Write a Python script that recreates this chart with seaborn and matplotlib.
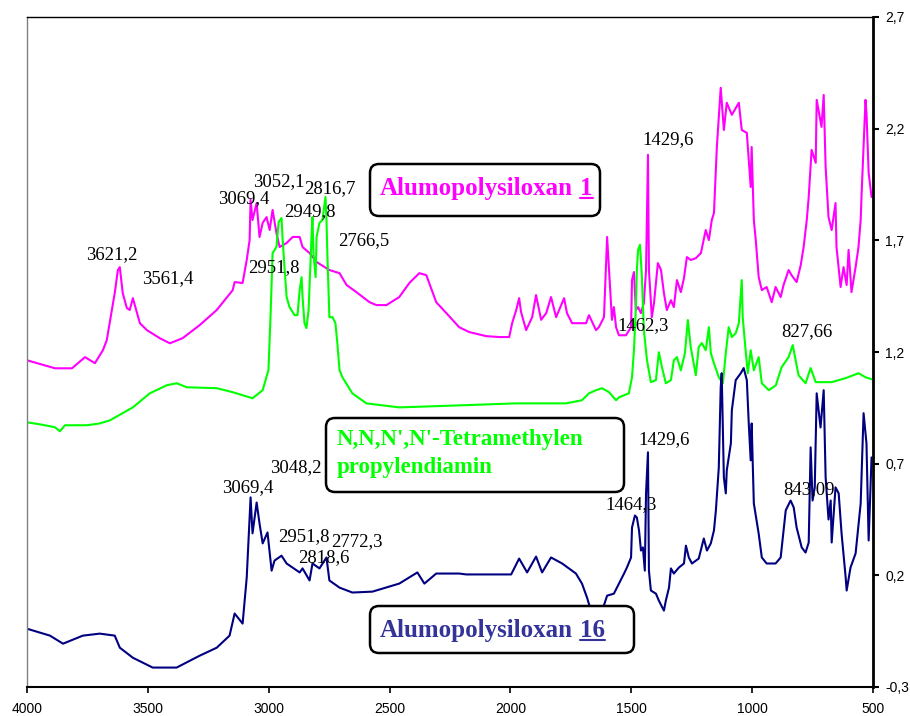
import matplotlib

matplotlib.use("Agg")
import matplotlib.pyplot as plt
import seaborn as sns
from matplotlib.lines import Line2D
from matplotlib.patches import FancyBboxPatch
from matplotlib.transforms import IdentityTransform

# --- Spektrendaten (Wellenzahl cm-1 / Absorbanz) ---
wn_alu1 = [4000, 3884, 3814, 3760, 3719, 3686, 3670, 3637, 3624, 3616, 3604, 3587, 3575,
           3562, 3533, 3504, 3451, 3409, 3356, 3286, 3215, 3149, 3141, 3108, 3091, 3079,
           3075, 3067, 3050, 3038, 3025, 3009, 2996, 2984, 2968, 2955, 2926, 2901, 2872,
           2860, 2831, 2802, 2749, 2707, 2678, 2637, 2583, 2554, 2513, 2460, 2418, 2377,
           2348, 2307, 2265, 2212, 2170, 2100, 2047, 2005, 1993, 1976, 1964, 1956, 1935,
           1910, 1894, 1873, 1852, 1832, 1811, 1778, 1766, 1745, 1687, 1675, 1646, 1634,
           1613, 1600, 1592, 1580, 1572, 1563, 1551, 1522, 1501, 1497, 1489, 1481, 1472,
           1460, 1448, 1439, 1431, 1427, 1415, 1406, 1390, 1377, 1365, 1353, 1336, 1324,
           1311, 1295, 1282, 1270, 1254, 1233, 1212, 1192, 1179, 1167, 1158, 1146, 1130,
           1117, 1105, 1084, 1055, 1043, 1022, 1006, 1002, 993, 985, 973, 960, 940, 919,
           903, 882, 870, 849, 837, 816, 799, 787, 774, 766, 754, 737, 733, 713, 704, 696,
           684, 671, 655, 651, 634, 622, 609, 601, 589, 572, 560, 551, 547, 531, 527, 518,
           506]
ab_alu1 = [1.163, 1.127, 1.127, 1.177, 1.150, 1.208, 1.253, 1.464, 1.567, 1.580, 1.464,
           1.397, 1.388, 1.441, 1.329, 1.298, 1.262, 1.239, 1.262, 1.320, 1.388, 1.477,
           1.513, 1.509, 1.612, 1.701, 1.881, 1.791, 1.867, 1.715, 1.778, 1.804, 1.746,
           1.836, 1.733, 1.670, 1.688, 1.715, 1.715, 1.670, 1.643, 1.603, 1.567, 1.553,
           1.500, 1.468, 1.423, 1.410, 1.410, 1.446, 1.509, 1.553, 1.544, 1.423, 1.374,
           1.311, 1.289, 1.271, 1.267, 1.267, 1.329, 1.388, 1.441, 1.379, 1.298, 1.356,
           1.455, 1.344, 1.374, 1.446, 1.356, 1.441, 1.374, 1.329, 1.329, 1.365, 1.298,
           1.311, 1.356, 1.715, 1.567, 1.344, 1.401, 1.311, 1.275, 1.275, 1.311, 1.522,
           1.558, 1.388, 1.401, 1.374, 1.419, 1.567, 2.083, 1.567, 1.356, 1.419, 1.598,
           1.567, 1.464, 1.388, 1.432, 1.401, 1.522, 1.468, 1.531, 1.625, 1.612, 1.620,
           1.643, 1.746, 1.701, 1.791, 1.822, 2.118, 2.383, 2.194, 2.316, 2.262, 2.316,
           2.194, 2.181, 1.939, 2.118, 1.791, 1.701, 1.536, 1.477, 1.491, 1.423, 1.491,
           1.446, 1.500, 1.567, 1.544, 1.513, 1.589, 1.670, 1.791, 1.894, 2.105, 2.047,
           2.329, 2.208, 2.351, 2.029, 1.804, 1.746, 1.867, 1.670, 1.491, 1.580, 1.500,
           1.657, 1.468, 1.580, 1.670, 1.791, 1.912, 2.329, 2.271, 2.002, 1.894]

wn_amin = [4000, 3946, 3884, 3864, 3843, 3752, 3700, 3657, 3562, 3492, 3422, 3381, 3339,
           3215, 3149, 3067, 3025, 3001, 2992, 2984, 2968, 2959, 2947, 2943, 2934, 2926,
           2914, 2893, 2881, 2872, 2864, 2860, 2852, 2844, 2835, 2823, 2819, 2815, 2806,
           2802, 2790, 2778, 2765, 2761, 2757, 2749, 2736, 2724, 2716, 2707, 2695, 2654,
           2596, 2460, 2212, 1976, 1770, 1704, 1675, 1646, 1621, 1592, 1563, 1551, 1510,
           1497, 1489, 1481, 1477, 1472, 1464, 1456, 1448, 1435, 1419, 1398, 1386, 1373,
           1357, 1336, 1324, 1311, 1295, 1278, 1266, 1254, 1233, 1221, 1208, 1192, 1179,
           1171, 1158, 1138, 1121, 1109, 1097, 1084, 1068, 1055, 1043, 1039, 1026, 1018,
           1006, 993, 973, 960, 931, 902, 878, 849, 832, 820, 808, 779, 758, 737, 671,
           613, 560, 531, 506]
ab_amin = [0.885, 0.876, 0.863, 0.845, 0.872, 0.872, 0.880, 0.894, 0.952, 1.015, 1.051,
           1.060, 1.042, 1.038, 1.020, 0.993, 1.029, 1.119, 1.374, 1.643, 1.670, 1.782,
           1.800, 1.715, 1.567, 1.446, 1.401, 1.365, 1.365, 1.477, 1.535, 1.446, 1.329,
           1.307, 1.388, 1.715, 1.804, 1.643, 1.535, 1.715, 1.778, 1.791, 1.894, 1.791,
           1.625, 1.356, 1.356, 1.329, 1.239, 1.119, 1.087, 1.015, 0.970, 0.952, 0.961,
           0.970, 0.970, 0.984, 1.015, 1.029, 1.038, 1.020, 0.984, 0.997, 1.015, 1.087,
           1.208, 1.401, 1.567, 1.657, 1.680, 1.535, 1.298, 1.163, 1.065, 1.074, 1.199,
           1.132, 1.060, 1.074, 1.163, 1.177, 1.118, 1.195, 1.343, 1.222, 1.096, 1.222,
           1.240, 1.208, 1.311, 1.195, 1.150, 1.087, 1.060, 1.195, 1.311, 1.267, 1.284,
           1.329, 1.522, 1.356, 1.195, 1.105, 1.208, 1.118, 1.177, 1.060, 1.029, 1.051,
           1.132, 1.177, 1.231, 1.163, 1.096, 1.060, 1.128, 1.065, 1.065, 1.083, 1.105,
           1.087, 1.078]

wn_alu16 = [4000, 3905, 3851, 3769, 3699, 3637, 3616, 3562, 3480, 3381, 3286, 3215, 3162,
            3141, 3108, 3091, 3075, 3067, 3050, 3038, 3025, 3005, 2988, 2976, 2947, 2926,
            2872, 2860, 2831, 2819, 2790, 2761, 2749, 2707, 2654, 2571, 2460, 2385, 2356,
            2307, 2212, 2183, 1997, 1964, 1931, 1894, 1869, 1832, 1786, 1729, 1704, 1683,
            1667, 1634, 1600, 1572, 1551, 1530, 1518, 1501, 1497, 1485, 1477, 1468, 1460,
            1452, 1444, 1439, 1431, 1427, 1419, 1398, 1386, 1365, 1357, 1344, 1336, 1324,
            1303, 1282, 1274, 1262, 1249, 1221, 1200, 1187, 1171, 1158, 1150, 1138, 1130,
            1126, 1117, 1109, 1105, 1088, 1084, 1068, 1047, 1035, 1022, 1014, 1006, 1002,
            993, 973, 960, 940, 903, 882, 861, 841, 828, 816, 795, 779, 766, 758, 750, 741,
            733, 717, 704, 696, 684, 675, 671, 655, 642, 630, 613, 609, 593, 572, 551, 539,
            527, 518, 506]
ab_alu16 = [-0.039, -0.070, -0.106, -0.070, -0.061, -0.070, -0.124, -0.169, -0.213, -0.213,
            -0.160, -0.124, -0.070, 0.029, -0.016, 0.190, 0.549, 0.388, 0.526, 0.432, 0.343,
            0.392, 0.221, 0.266, 0.288, 0.253, 0.213, 0.231, 0.177, 0.253, 0.231, 0.280,
            0.177, 0.145, 0.123, 0.127, 0.163, 0.213, 0.163, 0.208, 0.208, 0.204, 0.204,
            0.275, 0.213, 0.284, 0.213, 0.280, 0.253, 0.208, 0.163, 0.100, 0.042, -0.003,
            0.109, 0.118, 0.163, 0.208, 0.235, 0.280, 0.414, 0.468, 0.459, 0.401, 0.311,
            0.325, 0.221, 0.567, 0.751, 0.221, 0.132, 0.118, 0.087, 0.042, 0.087, 0.145,
            0.231, 0.208, 0.235, 0.253, 0.333, 0.280, 0.253, 0.275, 0.365, 0.311, 0.343,
            0.401, 0.491, 0.683, 1.042, 1.105, 0.639, 0.567, 0.670, 0.791, 0.939, 1.074,
            1.105, 1.128, 1.074, 0.880, 0.715, 0.880, 0.522, 0.387, 0.280, 0.253, 0.253,
            0.280, 0.491, 0.535, 0.504, 0.414, 0.325, 0.302, 0.347, 0.773, 0.535, 0.594,
            1.015, 0.862, 1.029, 0.639, 0.450, 0.535, 0.347, 0.594, 0.567, 0.387, 0.190,
            0.132, 0.235, 0.298, 0.522, 0.926, 0.791, 0.356, 0.728]

# Peakbeschriftungen: (Text, Wellenzahl, Absorbanz)
peak_labels = [
    ("3621,2", 3649, 1.634), ("3561,4", 3418, 1.527), ("3069,4", 3104, 1.885),
    ("3052,1", 2959, 1.961), ("2816,7", 2749, 1.930), ("2949,8", 2831, 1.827),
    ("2951,8", 2980, 1.576), ("2766,5", 2608, 1.701), ("1429,6", 1349, 2.150),
    ("1462,3", 1452, 1.316), ("827,66", 774, 1.293),
    ("3048,2", 2889, 0.683), ("3069,4", 3087, 0.594), ("2951,8", 2856, 0.374),
    ("2772,3", 2637, 0.351), ("2818,6", 2773, 0.280), ("1429,6", 1365, 0.809),
    ("1464,3", 1501, 0.517), ("843,09", 766, 0.585),
]

x_ticks = [4000, 3500, 3000, 2500, 2000, 1500, 1000, 500]
y_ticks = [-0.3, 0.2, 0.7, 1.2, 1.7, 2.2, 2.7]
y_tick_labels = ["-0,3", "0,2", "0,7", "1,2", "1,7", "2,2", "2,7"]

c_alu1 = "#ff00ff"
c_amin = "#00ff00"
c_alu16 = "#000080"
c_alu16_text = "#333399"

sns.set_theme(style="ticks")
plt.rcParams["font.family"] = ["Liberation Sans", "DejaVu Sans"]

W, H = 910, 716
fig = plt.figure(figsize=(W / 100, H / 100), dpi=100)
fig.patch.set_facecolor("white")
ax = fig.add_axes([27 / W, 1 - 687 / H, 846 / W, 670 / H])

for wn, ab, col in [(wn_alu1, ab_alu1, c_alu1), (wn_amin, ab_amin, c_amin),
                    (wn_alu16, ab_alu16, c_alu16)]:
    sns.lineplot(x=wn, y=ab, color=col, lw=1.5, sort=False, estimator=None, ax=ax)

for txt, xv, yv in peak_labels:
    ax.text(xv, yv, txt, ha="center", va="center", fontsize=13.5,
            family="Liberation Serif", color="black")

ax.set_xlim(4000, 500)
ax.set_ylim(-0.3, 2.7)
ax.set_xticks(x_ticks)
ax.set_xticklabels([str(t) for t in x_ticks])
ax.yaxis.tick_right()
ax.set_yticks(y_ticks)
ax.set_yticklabels(y_tick_labels)
ax.tick_params(axis="x", direction="out", length=4, width=1.2, pad=7, labelsize=10,
               colors="black")
ax.tick_params(axis="y", direction="out", length=4, width=1.5, pad=5, labelsize=10,
               colors="black")
ax.set_xlabel("")
ax.set_ylabel("")
ax.grid(False)
ax.set_facecolor("white")
for side, (col, lw) in {"left": ("#808080", 1.0), "top": ("black", 1.0),
                        "bottom": ("black", 1.5), "right": ("black", 2.0)}.items():
    ax.spines[side].set_visible(True)
    ax.spines[side].set_color(col)
    ax.spines[side].set_linewidth(lw)

# Beschriftungskästen (Pixelkoordinaten, Ursprung oben links)
ident = IdentityTransform()


def box(x0, y0, x1, y1):
    p = FancyBboxPatch((x0, H - y1), x1 - x0, y1 - y0,
                       boxstyle="round,pad=0,rounding_size=9",
                       transform=ident, facecolor="white", edgecolor="black", lw=1.8,
                       zorder=2)
    fig.add_artist(p)


box(370, 164, 600, 216)
box(326, 418, 624, 492)
box(370, 606, 634, 653)

font_box = dict(family="Liberation Serif", fontweight="bold", transform=ident,
                va="baseline", ha="left", zorder=3)

t1 = fig.text(380, H - 195, "Alumopolysiloxan", color=c_alu1, fontsize=18, **font_box)
t2 = fig.text(380, H - 637, "Alumopolysiloxan", color=c_alu16_text, fontsize=18,
              **font_box)
fig.text(337, H - 445, "N,N,N',N'-Tetramethylen", color=c_amin, fontsize=16.5, **font_box)
fig.text(337, H - 473, "propylendiamin", color=c_amin, fontsize=16.5, **font_box)

fig.canvas.draw()
r = fig.canvas.get_renderer()
for t, num, col, base in [(t1, "1", c_alu1, 195), (t2, "16", c_alu16_text, 637)]:
    bb = t.get_window_extent(r)
    n = fig.text(bb.x1 + 7, H - base, num, color=col, fontsize=18, **font_box)
    nb = n.get_window_extent(r)
    fig.add_artist(Line2D([nb.x0, nb.x1], [H - base - 3, H - base - 3], transform=ident,
                          color=col, lw=1.5, zorder=3))

fig.savefig("out.png", dpi=100, facecolor="white")
